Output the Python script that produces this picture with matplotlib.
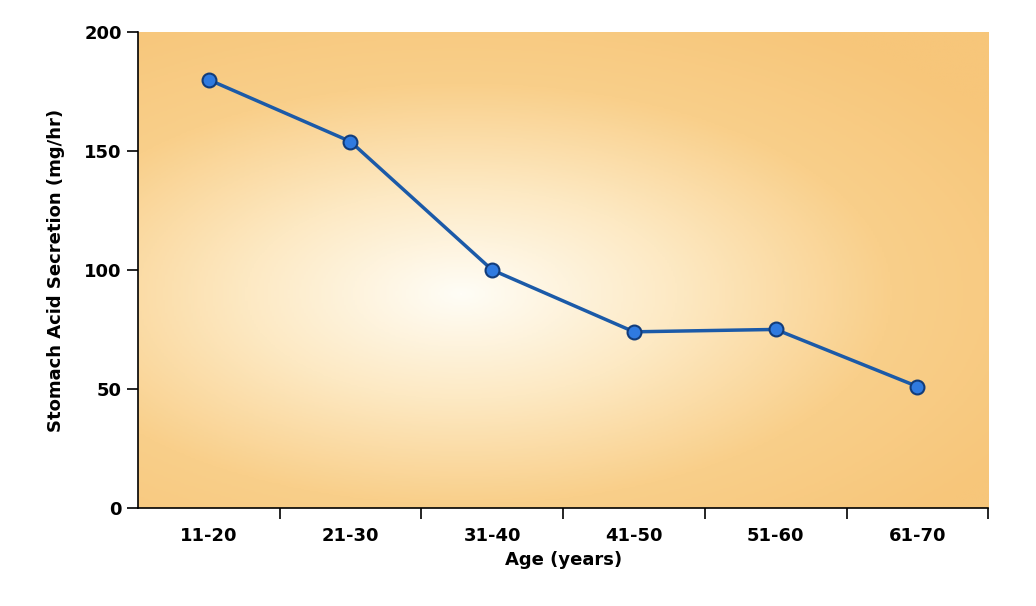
import numpy as np
import matplotlib.pyplot as plt
from matplotlib.colors import LinearSegmentedColormap

# data
ages = ['11-20', '21-30', '31-40', '41-50', '51-60', '61-70']
secretion = [180, 154, 100, 74, 75, 51]

fig = plt.figure(figsize=(10.36, 6.06), dpi=100)
ax = fig.add_axes([0.133, 0.162, 0.821, 0.785])

# radial background: white-ish centre fading to orange
cmap = LinearSegmentedColormap.from_list('bg', ['#fffdf6', '#fde9c3', '#f9cf8a', '#f7c67a'])
gx, gy = np.meshgrid(np.linspace(0, 1, 400), np.linspace(0, 1, 300))
r = np.sqrt(((gx - 0.38) / 0.8) ** 2 + ((gy - 0.45) / 0.7) ** 2)
ax.imshow(r, cmap=cmap, extent=[0, 1, 0, 1], transform=ax.transAxes,
          aspect='auto', vmin=0, vmax=0.95, zorder=0, origin='lower')

x = np.arange(len(ages))
ax.plot(x, secretion, color='#1b5aa8', lw=2.5, marker='o', ms=10,
        mfc='#2f7ae0', mec='#123c7a', mew=1.5, zorder=3)

ax.set_xlim(-0.5, 5.5)
ax.set_ylim(0, 200)
ax.set_yticks([0, 50, 100, 150, 200])
ax.set_xticks(x)
ax.set_xticklabels(ages, fontsize=13, fontweight='bold')
ax.set_xticks(np.arange(0.5, 6, 1), minor=True)
ax.tick_params(axis='x', which='major', length=0, pad=14)
ax.tick_params(axis='x', which='minor', length=8, width=1.2)
ax.tick_params(axis='y', length=8, width=1.2, labelsize=13)
for lab in ax.get_yticklabels():
    lab.set_fontweight('bold')
ax.spines['top'].set_visible(False)
ax.spines['right'].set_visible(False)
ax.spines['left'].set_linewidth(1.2)
ax.spines['bottom'].set_linewidth(1.2)
ax.set_xlabel('Age (years)', fontsize=13, fontweight='bold', labelpad=4)
ax.set_ylabel('Stomach Acid Secretion (mg/hr)', fontsize=13, fontweight='bold', labelpad=14)

fig.savefig('out.png', dpi=100)
